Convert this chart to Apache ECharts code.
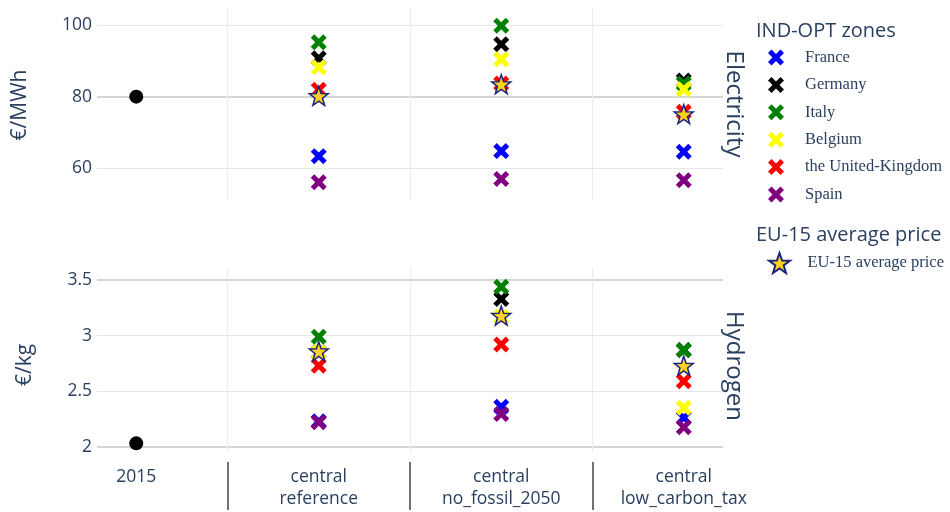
<!DOCTYPE html>
<html><head><meta charset="utf-8">
<script src="https://cdn.jsdelivr.net/npm/echarts@6/dist/echarts.min.js"></script>
<style>html,body{margin:0;padding:0;background:#fff}#c{width:950px;height:512px}</style>
</head><body><div id="c"></div>
<script>
// ---- categories / tick labels ----
const scenarioLine1 = ['2015', 'central', 'central', 'central'];
const scenarioLine2 = ['', 'reference', 'no_fossil_2050', 'low_carbon_tax'];
const zones = ['France', 'Germany', 'Italy', 'Belgium', 'the United-Kingdom', 'Spain'];
const avgName = 'EU-15 average price';
const elecTicks = [60, 80, 100];
const h2Ticks = [2, 2.5, 3, 3.5];

// ---- Electricity (€/MWh), scenarios: reference, no_fossil_2050, low_carbon_tax ----
const elecFrance  = [63.4, 64.8, 64.6];
const elecGermany = [90.7, 94.6, 84.5];
const elecItaly   = [95.2, 99.8, 83.7];
const elecBelgium = [88.2, 90.4, 82.1];
const elecUK      = [81.9, 83.7, 75.8];
const elecSpain   = [56.1, 57.0, 56.7];
const elecAvg     = [80.2, 83.5, 75.1];
const elec2015    = [80.0];

// ---- Hydrogen (€/kg) ----
const h2France  = [2.23, 2.36, 2.26];
const h2Germany = [2.85, 3.33, 2.87];
const h2Italy   = [2.99, 3.44, 2.87];
const h2Belgium = [2.85, 3.17, 2.35];
const h2UK      = [2.73, 2.92, 2.59];
const h2Spain   = [2.22, 2.295, 2.175];
const h2Avg     = [2.86, 3.18, 2.73];
const h2_2015   = [2.03];

const elecZones = [elecFrance, elecGermany, elecItaly, elecBelgium, elecUK, elecSpain];
const h2Zones = [h2France, h2Germany, h2Italy, h2Belgium, h2UK, h2Spain];
const zoneColors = ['#0000ff', '#000000', '#008000', '#ffff00', '#ff0000', '#800080'];

const TXT = '#2a3f5f';
const CROSS = 'path://M0,2.2 L2.2,0 L5,2.8 L7.8,0 L10,2.2 L7.2,5 L10,7.8 L7.8,10 L5,7.2 L2.2,10 L0,7.8 L2.8,5 Z';
const STAR = 'path://M10,0 L12.351,6.764 L19.511,6.910 L13.804,11.236 L15.878,18.090 L10,14 L4.122,18.090 L6.196,11.236 L0.489,6.910 L7.649,6.764 Z';
const XMIN = -0.215, XMAX = 3.215;
const dividers = [0.5, 1.5, 2.5];

function toPts(arr) { return arr.map((v, i) => [i + 1, v]); }

const series = [];
zones.forEach((z, k) => {
  [[elecZones[k], 0, 0], [h2Zones[k], 1, 2]].forEach(([vals, xi, yi]) => {
    series.push({
      type: 'scatter', name: z, xAxisIndex: xi, yAxisIndex: yi,
      symbol: CROSS, symbolSize: 16,
      itemStyle: { color: zoneColors[k], opacity: 1 },
      data: toPts(vals)
    });
  });
});
[[elecAvg, 0, 0], [h2Avg, 1, 2]].forEach(([vals, xi, yi]) => {
  series.push({
    type: 'scatter', name: avgName, xAxisIndex: xi, yAxisIndex: yi,
    symbol: STAR, symbolSize: 19,
    itemStyle: { color: '#ffd21f', borderColor: '#1a237e', borderWidth: 1.5, opacity: 1 },
    data: toPts(vals)
  });
});
[[elec2015, 0, 0], [h2_2015, 1, 2]].forEach(([vals, xi, yi]) => {
  series.push({
    type: 'scatter', name: '2015', xAxisIndex: xi, yAxisIndex: yi,
    symbol: 'circle', symbolSize: 14,
    itemStyle: { color: '#000000', opacity: 1 },
    data: vals.map(v => [0, v])
  });
});

function xMain(grid, showLabels) {
  return {
    type: 'value', gridIndex: grid, min: XMIN, max: XMAX,
    axisLine: { show: false },
    axisTick: { show: false, customValues: dividers },
    splitLine: { show: true, lineStyle: { color: '#ececec', width: 1 } },
    axisLabel: showLabels ? {
      show: true, customValues: [0, 1, 2, 3], margin: 14,
      fontFamily: 'Open Sans', fontSize: 17.5, color: TXT, lineHeight: 22,
      formatter: v => { const i = Math.round(v); return scenarioLine1[i] + (scenarioLine2[i] ? '\n' + scenarioLine2[i] : ''); }
    } : { show: false }
  };
}

const option = {
  backgroundColor: '#ffffff',
  animation: false,
  grid: [
    { left: 97, right: 227, top: 8, height: 192 },
    { left: 97, right: 227, top: 268, height: 184 }
  ],
  xAxis: [
    xMain(0, false),
    xMain(1, true),
    { type: 'value', gridIndex: 1, min: XMIN, max: XMAX, position: 'bottom', offset: 10,
      axisLine: { show: false },
      axisTick: { show: true, customValues: dividers, length: 48, lineStyle: { color: '#444444', width: 1.5 } },
      axisLabel: { show: false }, splitLine: { show: false } }
  ],
  yAxis: [
    { type: 'value', gridIndex: 0, min: 51.16, max: 104.74,
      axisLine: { show: false },
      axisTick: { show: false, customValues: elecTicks },
      axisLabel: { customValues: elecTicks, margin: 5, fontFamily: 'Open Sans', fontSize: 17.5, color: TXT },
      splitLine: { show: true, lineStyle: { color: '#e6e6e6', width: 1 } } },
    { type: 'value', gridIndex: 0, min: 51.16, max: 104.74, position: 'left',
      axisLine: { show: false }, axisLabel: { show: false },
      axisTick: { show: false, customValues: [80] },
      splitLine: { show: true, lineStyle: { color: '#d6d6d6', width: 2 } } },
    { type: 'value', gridIndex: 1, min: 1.952, max: 3.61,
      axisLine: { show: false },
      axisTick: { show: false, customValues: h2Ticks },
      axisLabel: { customValues: h2Ticks, margin: 5, fontFamily: 'Open Sans', fontSize: 17.5, color: TXT },
      splitLine: { show: true, lineStyle: { color: '#e6e6e6', width: 1 } } },
    { type: 'value', gridIndex: 1, min: 1.952, max: 3.61, position: 'left',
      axisLine: { show: false }, axisLabel: { show: false },
      axisTick: { show: false, customValues: [2, 3.5] },
      splitLine: { show: true, lineStyle: { color: '#d6d6d6', width: 2 } } }
  ],
  legend: [
    { data: zones, orient: 'vertical', left: 763, top: 44,
      itemWidth: 48, itemHeight: 16, itemGap: 10.4, selectedMode: false,
      textStyle: { fontFamily: 'Liberation Serif', fontSize: 16.5, color: TXT, lineHeight: 16 } },
    { data: [avgName], orient: 'vertical', left: 763, top: 247,
      itemWidth: 46, itemHeight: 20, selectedMode: false,
      textStyle: { fontFamily: 'Liberation Serif', fontSize: 16.5, color: TXT } }
  ],
  graphic: [
    { type: 'text', left: 756, top: 21, style: { text: 'IND-OPT zones', font: '20px "Open Sans"', fill: TXT } },
    { type: 'text', left: 756, top: 225, style: { text: avgName, font: '20px "Open Sans"', fill: TXT } },
    { type: 'text', x: 734, y: 104, rotation: -Math.PI / 2,
      style: { text: 'Electricity', font: '24px "Open Sans"', fill: TXT, align: 'center', verticalAlign: 'middle' } },
    { type: 'text', x: 734, y: 366, rotation: -Math.PI / 2,
      style: { text: 'Hydrogen', font: '24px "Open Sans"', fill: TXT, align: 'center', verticalAlign: 'middle' } },
    { type: 'text', x: 20, y: 105, rotation: Math.PI / 2,
      style: { text: '€/MWh', font: '21px "Open Sans"', fill: TXT, align: 'center', verticalAlign: 'middle' } },
    { type: 'text', x: 25, y: 365, rotation: Math.PI / 2,
      style: { text: '€/kg', font: '21px "Open Sans"', fill: TXT, align: 'center', verticalAlign: 'middle' } }
  ],
  series: series
};

const chart = echarts.init(document.getElementById('c'), null, { renderer: 'canvas' });
chart.setOption(option);
</script>
</body></html>
